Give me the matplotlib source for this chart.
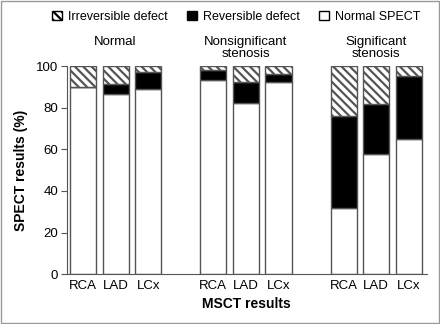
import numpy as np
import matplotlib.pyplot as plt
from matplotlib.patches import Patch, Rectangle

plt.rcParams['font.family'] = ['Liberation Sans', 'DejaVu Sans']
plt.rcParams['hatch.linewidth'] = 1.6

# data (percent of segments)
groups = ['Normal', 'Nonsignificant\nstenosis', 'Significant\nstenosis']
vessels = ['RCA', 'LAD', 'LCx']
normal_spect = [90, 86.5, 89, 93.4, 82.2, 92.3, 32, 57.5, 65]
reversible = [0, 4.7, 8, 4.5, 10.1, 3.7, 44, 24.5, 30]
irreversible = [10, 8.8, 3, 2.1, 7.7, 4, 24, 18, 5]

x = np.array([0, 1, 2, 4, 5, 6, 8, 9, 10])
normal_spect = np.array(normal_spect)
reversible = np.array(reversible)
irreversible = np.array(irreversible)

fig = plt.figure(figsize=(4.4, 3.24), dpi=100)
ax = fig.add_axes([0.1515, 0.154, 0.8185, 0.642])

edge = '#555555'
w = 0.8
ax.bar(x, normal_spect, w, color='white', edgecolor=edge, linewidth=1)
ax.bar(x, reversible, w, bottom=normal_spect, color='black', edgecolor=edge, linewidth=1)
ax.bar(x, irreversible, w, bottom=normal_spect + reversible, color='white',
       edgecolor=edge, linewidth=1, hatch='\\\\\\\\')

ax.set_xlim(-0.5, 10.55)
ax.set_ylim(0, 100)
ax.set_yticks([0, 20, 40, 60, 80, 100])
ax.set_xticks(x)
ax.set_xticklabels(vessels * 3)
ax.tick_params(axis='x', length=0, labelsize=9.5, pad=4)
ax.tick_params(axis='y', length=4, labelsize=9.5, color=edge, pad=2)
for s in ['top', 'right']:
    ax.spines[s].set_visible(False)
for s in ['left', 'bottom']:
    ax.spines[s].set_color(edge)

ax.set_ylabel('SPECT results (%)', fontweight='bold', fontsize=10, labelpad=6)
ax.set_xlabel('MSCT results', fontweight='bold', fontsize=10, labelpad=4)

for i, g in enumerate(groups):
    ax.text(x[3 * i + 1], 114.5, g, ha='center', va='top', fontsize=9.5,
            linespacing=1.05, clip_on=False)

handles = [Patch(facecolor='white', edgecolor='black', hatch='\\\\\\\\', label='Irreversible defect'),
           Patch(facecolor='black', edgecolor='black', label='Reversible defect'),
           Patch(facecolor='white', edgecolor='black', label='Normal SPECT')]
fig.legend(handles=handles, loc='center', bbox_to_anchor=(236 / 440, 0.948), ncol=3,
           frameon=False, fontsize=9, handlelength=0.8, handleheight=0.8,
           handletextpad=0.5, columnspacing=1.5)

fig.patches.append(Rectangle((0.003, 0.004), 0.994, 0.992, transform=fig.transFigure,
                             fill=False, edgecolor='#999999', linewidth=1))

fig.savefig('out.png', dpi=100)
